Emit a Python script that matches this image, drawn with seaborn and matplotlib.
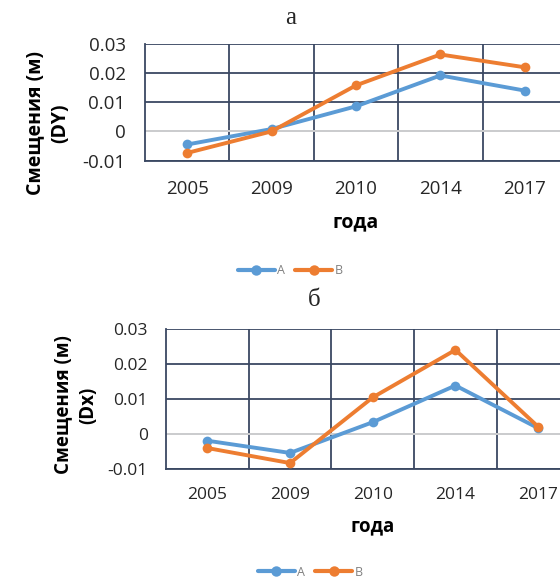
import matplotlib
matplotlib.use("Agg")
import matplotlib.pyplot as plt
from matplotlib.ticker import FixedLocator
import seaborn as sns
import pandas as pd

years = ["2005", "2009", "2010", "2014", "2017"]
series_names = ["A", "B"]
dy_a = [-0.0045, 0.0008, 0.0086, 0.0192, 0.0140]
dy_b = [-0.0074, 0.0000, 0.0158, 0.0264, 0.0220]
dx_a = [-0.0019, -0.0054, 0.0034, 0.0139, 0.0017]
dx_b = [-0.0040, -0.0083, 0.0105, 0.0241, 0.0021]
yticks = [-0.01, 0, 0.01, 0.02, 0.03]
ytick_labels = ["-0.01", "0", "0.01", "0.02", "0.03"]
titles = ["а", "б"]
ylabels = ["Смещения (м)\n(DY)", "Смещения (м)\n(Dx)"]
xlabel = "года"

sns.set_theme(style="white")
plt.rcParams['font.family'] = ['Open Sans', 'DejaVu Sans']

palette = {"A": "#5B9BD5", "B": "#ED7D31"}
grid_c = "#3A4862"

W, H = 560, 582
fig = plt.figure(figsize=(W / 100, H / 100), dpi=100)

def frac(left, top, right, bottom):
    return [left / W, 1 - bottom / H, (right - left) / W, (bottom - top) / H]

panels = [
    dict(rect=frac(145, 44, 567, 160.5), a=dy_a, b=dy_b, fs=13.5, lab=14,
         title_xy=(291, 18), xl=(-0.53), yl=(-0.230, 0.322), leg=(290, 271), pad=14),
    dict(rect=frac(166, 329.3, 579.5, 469), a=dx_a, b=dx_b, fs=12.5, lab=13.5,
         title_xy=(314, 300), xl=(-0.408), yl=(-0.2177, 0.458), leg=(310, 572), pad=13),
]

for i, p in enumerate(panels):
    ax = fig.add_axes(p["rect"])
    df = pd.DataFrame({
        "year": years * 2,
        "value": p["a"] + p["b"],
        "series": [series_names[0]] * len(years) + [series_names[1]] * len(years),
    })
    sns.lineplot(data=df, x="year", y="value", hue="series", palette=palette,
                 marker="o", markersize=7, markeredgewidth=0, linewidth=2.8,
                 sort=False, ax=ax, legend=True, zorder=3)
    ax.set_xlim(-0.5, 4.5)
    ax.set_ylim(-0.01, 0.03)
    ax.set_yticks(yticks)
    ax.set_yticklabels(ytick_labels)
    ax.xaxis.set_minor_locator(FixedLocator([0.5, 1.5, 2.5, 3.5, 4.5]))
    ax.grid(True, axis="y", which="major", color=grid_c, linewidth=1.3, zorder=0)
    ax.grid(True, axis="x", which="minor", color=grid_c, linewidth=1.3, zorder=0)
    ax.grid(False, axis="x", which="major")
    ax.axhline(0, color="#D9D9D9", linewidth=1.3, zorder=1)
    for s in ["top", "right"]:
        ax.spines[s].set_visible(False)
    for s in ["left", "bottom"]:
        ax.spines[s].set_color(grid_c)
        ax.spines[s].set_linewidth(1.3)
    ax.tick_params(axis="both", which="both", length=0, labelsize=p["fs"],
                   labelcolor="#262626")
    ax.tick_params(axis="x", pad=p["pad"])
    ax.tick_params(axis="y", pad=p["pad"])
    ax.set_xlabel(xlabel, fontsize=p["lab"], fontweight="bold", color="#000000")
    ax.xaxis.set_label_coords(0.5, p["xl"])
    ax.xaxis.label.set_va("center")
    ax.set_ylabel(ylabels[i], fontsize=p["lab"], fontweight="bold",
                  color="#000000", linespacing=1.35)
    ax.yaxis.set_label_coords(*p["yl"])
    ax.yaxis.label.set_va("center")
    handles, labels = ax.get_legend_handles_labels()
    ax.get_legend().remove()
    leg = fig.legend(handles, labels, loc="center",
                     bbox_to_anchor=(p["leg"][0] / W, 1 - p["leg"][1] / H),
                     ncol=2, frameon=False, fontsize=9, labelcolor="#808080",
                     handlelength=3.0, handletextpad=0.15, columnspacing=0.8)
    for h in leg.legend_handles:
        h.set_markersize(7.5)
        h.set_linewidth(3)
    fig.text(p["title_xy"][0] / W, 1 - p["title_xy"][1] / H, titles[i],
             ha="center", va="center", fontsize=18, family="Liberation Serif")

fig.savefig("out.png", dpi=100)
